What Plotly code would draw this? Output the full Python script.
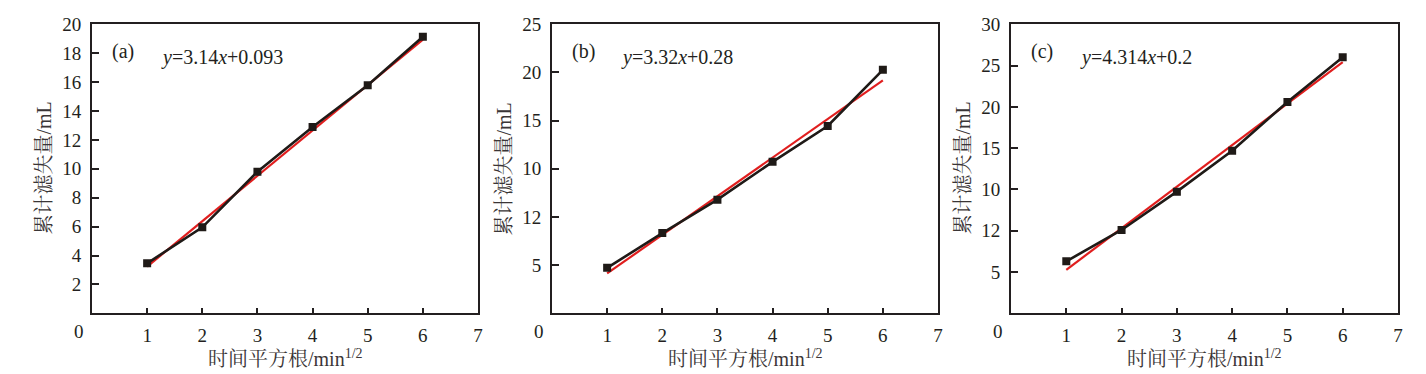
import plotly.graph_objects as go

W, H = 1426, 374

x_pts = [1, 2, 3, 4, 5, 6]

# Panel (a)
y_a = [3.46, 5.95, 9.80, 12.90, 15.78, 19.14]
fit_x = [1, 6]
fit_a = [3.233, 18.933]
# Panel (b)
y_b = [3.93, 6.94, 9.83, 13.10, 16.20, 21.06]
fit_b = [3.45, 20.15]
# Panel (c)
y_c = [5.40, 8.65, 12.63, 16.88, 21.94, 26.58]
fit_c = [4.514, 26.084]

eq_a = "<i>y</i>=3.14<i>x</i>+0.093"
eq_b = "<i>y</i>=3.32<i>x</i>+0.28"
eq_c = "<i>y</i>=4.314<i>x</i>+0.2"
labels = ["(a)", "(b)", "(c)"]

x_tickvals = [1, 2, 3, 4, 5, 6, 7]
x_ticktext = ["1", "2", "3", "4", "5", "6", "7"]

yticks_a_text = ["2", "4", "6", "8", "10", "12", "14", "16", "18", "20"]
yticks_a_vals = [2, 4, 6, 8, 10, 12, 14, 16, 18, 20]
yticks_b_text = ["5", "12", "10", "15", "20", "25"]
yticks_c_text = ["5", "12", "10", "15", "20", "25", "30"]

y_ranges = [[0, 20], [0, 25], [0, 30]]

ylabel = "累计滤失量/mL"
xlabel = "时间平方根/min<sup>1/2</sup>"

FONT = "Liberation Serif, Times New Roman, Noto Serif CJK SC, Noto Sans CJK SC, serif"
TXT = "#231f20"
RED = "#e01e1e"

# plot area pixel positions
panels_px = [(92, 478), (552, 938), (1011, 1398)]
top_px, bot_px = 24.3, 313.3

def px(x):
    return x / W

def py(y):
    return 1 - y / H

fig = go.Figure()

ys = [y_a, y_b, y_c]
fits = [fit_a, fit_b, fit_c]
eqs = [eq_a, eq_b, eq_c]

# tick positions for the odd y axes in (b) and (c): evenly spaced to top
nb = len(yticks_b_text)
yticks_b_vals = [y_ranges[1][1] * (k + 1) / nb for k in range(nb)]
nc = len(yticks_c_text)
yticks_c_vals = [y_ranges[2][1] * (k + 1) / nc for k in range(nc)]
ytv = [yticks_a_vals, yticks_b_vals, yticks_c_vals]
ytt = [yticks_a_text, yticks_b_text, yticks_c_text]

annotations = []
for i in range(3):
    xa = "x" if i == 0 else f"x{i+1}"
    ya = "y" if i == 0 else f"y{i+1}"
    fig.add_trace(go.Scatter(x=fit_x, y=fits[i], mode="lines",
                             line=dict(color=RED, width=2.2),
                             xaxis=xa, yaxis=ya, showlegend=False))
    fig.add_trace(go.Scatter(x=x_pts, y=ys[i], mode="lines+markers",
                             line=dict(color="#1f1a17", width=2.6),
                             marker=dict(symbol="square", size=8, color="#1f1a17"),
                             xaxis=xa, yaxis=ya, showlegend=False))
    l, r = panels_px[i]
    axis_common = dict(showline=True, linecolor=TXT, linewidth=2, mirror=True,
                       ticks="inside", tickcolor=TXT, tickwidth=1.5,
                       showgrid=False, zeroline=False, automargin=False,
                       tickfont=dict(family=FONT, size=19, color=TXT))
    xkey = "xaxis" if i == 0 else f"xaxis{i+1}"
    ykey = "yaxis" if i == 0 else f"yaxis{i+1}"
    fig.update_layout({
        xkey: dict(domain=[px(l), px(r)], range=[0, 7], tickvals=x_tickvals,
                   ticktext=x_ticktext, ticklen=5, anchor=ya,
                   ticklabelstandoff=4, **axis_common),
        ykey: dict(domain=[py(bot_px), py(top_px)], range=y_ranges[i],
                   tickvals=ytv[i], ticktext=ytt[i], ticklen=7, anchor=xa,
                   ticklabelstandoff=5, **axis_common),
    })
    # origin "0"
    annotations.append(dict(x=px(l - 13), y=py(331.5), xref="paper", yref="paper",
                            text="0", showarrow=False, xanchor="center", yanchor="middle",
                            font=dict(family=FONT, size=19, color=TXT)))
    # panel label
    annotations.append(dict(x=px(l + 31), y=py(51.7), xref="paper", yref="paper",
                            text=labels[i], showarrow=False, xanchor="center", yanchor="middle",
                            font=dict(family=FONT, size=20, color=TXT)))
    # equation
    annotations.append(dict(x=px(l + 66.5), y=py(57.5), xref="paper", yref="paper",
                            text=eqs[i], showarrow=False, xanchor="left", yanchor="middle",
                            font=dict(family=FONT, size=20, color=TXT)))
    # y title
    annotations.append(dict(x=px(l - 49), y=py(168.5), xref="paper", yref="paper",
                            text=ylabel, showarrow=False, textangle=-90,
                            xanchor="center", yanchor="middle",
                            font=dict(family=FONT, size=20, color="#3a3536")))
    # x title
    annotations.append(dict(x=px((l + r) / 2), y=py(358), xref="paper", yref="paper",
                            text=xlabel, showarrow=False, xanchor="center", yanchor="middle",
                            font=dict(family=FONT, size=20, color="#3a3536")))

fig.update_layout(width=W, height=H, margin=dict(l=0, r=0, t=0, b=0, autoexpand=False),
                  paper_bgcolor="white", plot_bgcolor="white",
                  annotations=annotations)

fig.write_html("out.html",
               config={"displayModeBar": False},
               post_script="document.body.style.margin='0';"
                           "document.body.style.padding='0';"
                           "document.body.style.overflow='hidden';")
